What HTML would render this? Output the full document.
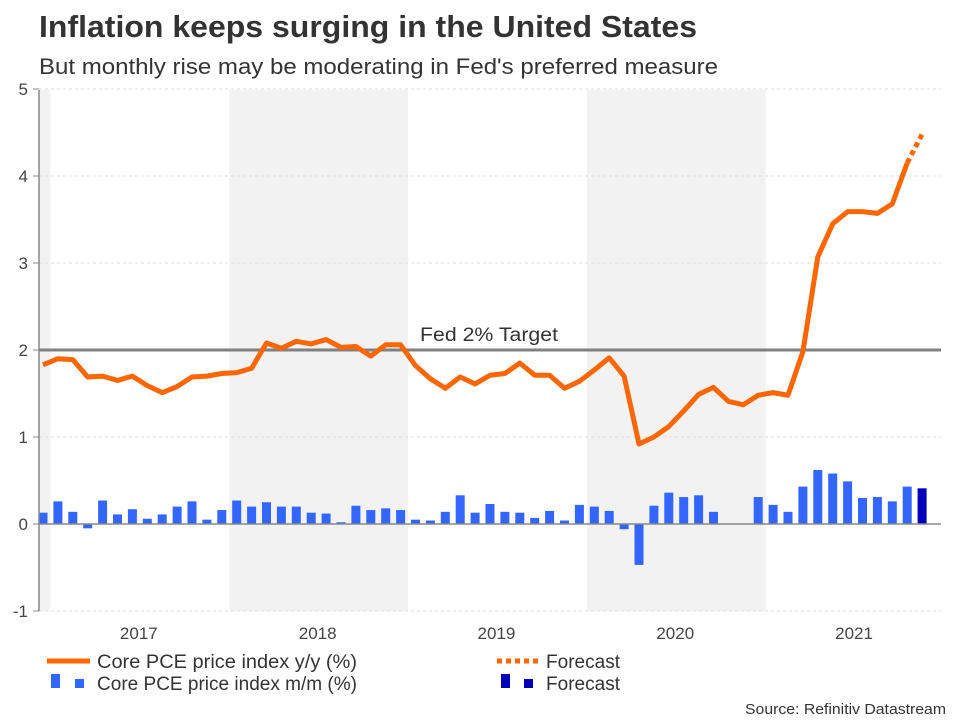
<!DOCTYPE html>
<html><head><meta charset="utf-8"><style>
body{margin:0;background:#fff;width:960px;height:720px;overflow:hidden;font-family:"Liberation Sans",Arial,sans-serif}
</style></head><body>
<svg width="960" height="720" xmlns="http://www.w3.org/2000/svg">
<text x="39" y="37" font-size="31" font-weight="bold" fill="#333" textLength="658" lengthAdjust="spacingAndGlyphs">Inflation keeps surging in the United States</text>
<text x="39" y="74" font-size="22" fill="#333" textLength="679" lengthAdjust="spacingAndGlyphs">But monthly rise may be moderating in Fed's preferred measure</text>
<g id="bands"></g>
<g id="grid"></g>
<g id="bars"></g>
<line x1="39" x2="941" y1="524" y2="524" stroke="#888" stroke-width="1.5"/>
<line x1="39" x2="941" y1="350" y2="350" stroke="#808080" stroke-width="3"/>
<text x="420" y="341" font-size="19" fill="#333" textLength="138" lengthAdjust="spacingAndGlyphs">Fed 2% Target</text>
<g id="line"></g>
<g id="axes"></g>
<g>
<line x1="47" x2="90" y1="661" y2="661" stroke="#ff6600" stroke-width="5"/>
<text x="97" y="668" font-size="19" fill="#333" textLength="260" lengthAdjust="spacingAndGlyphs">Core PCE price index y/y (%)</text>
<line x1="497" x2="540" y1="661" y2="661" stroke="#ff6600" stroke-width="5" stroke-dasharray="5,4"/>
<text x="546" y="668" font-size="19" fill="#333" textLength="74" lengthAdjust="spacingAndGlyphs">Forecast</text>
<rect x="51" y="674" width="9" height="14" fill="#3366ff"/>
<rect x="75" y="679" width="9" height="9" fill="#3366ff"/>
<text x="97" y="690" font-size="19" fill="#333" textLength="260" lengthAdjust="spacingAndGlyphs">Core PCE price index m/m (%)</text>
<rect x="501" y="674" width="9" height="14" fill="#0000bb"/>
<rect x="524" y="679" width="9" height="9" fill="#0000bb"/>
<text x="546" y="690" font-size="19" fill="#333" textLength="74" lengthAdjust="spacingAndGlyphs">Forecast</text>
</g>
<text x="745" y="714" font-size="15" fill="#333" textLength="201" lengthAdjust="spacingAndGlyphs">Source: Refinitiv Datastream</text>
</svg>
<script>
const yyValues=[1.83,1.90,1.89,1.69,1.70,1.65,1.70,1.59,1.51,1.58,1.69,1.70,1.73,1.74,1.79,2.08,2.02,2.10,2.07,2.12,2.03,2.04,1.93,2.06,2.06,1.82,1.67,1.56,1.69,1.61,1.71,1.73,1.85,1.71,1.71,1.56,1.64,1.77,1.91,1.70,0.92,1.00,1.12,1.30,1.49,1.57,1.41,1.37,1.48,1.51,1.48,1.98,3.07,3.45,3.59,3.59,3.57,3.68,4.15];
const yyForecast=[4.48];
const mmValues=[0.13,0.26,0.14,-0.05,0.27,0.11,0.17,0.06,0.11,0.20,0.26,0.05,0.16,0.27,0.20,0.25,0.20,0.20,0.13,0.12,0.02,0.21,0.16,0.18,0.16,0.05,0.04,0.14,0.33,0.13,0.23,0.14,0.13,0.07,0.15,0.04,0.22,0.20,0.15,-0.06,-0.47,0.21,0.36,0.31,0.33,0.14,0.005,0.005,0.31,0.22,0.14,0.43,0.62,0.58,0.49,0.30,0.31,0.26,0.43];
const mmForecast=[0.41];
const yTicks=[-1,0,1,2,3,4,5];
const yearLabels=["2017","2018","2019","2020","2021"];
const NS="http://www.w3.org/2000/svg";
const X=i=>43+14.9*i;
const Y=v=>524-87*v;
function mk(tag,attrs,parent){const e=document.createElementNS(NS,tag);for(const k in attrs)e.setAttribute(k,attrs[k]);document.getElementById(parent).appendChild(e);return e;}
for(let k=0;k<3;k++){const x0=k==0?39:X(0.5+12*(2*k-1));const x1=X(0.5+24*k);
const r=mk('rect',{x:x0,y:90,width:x1-x0,height:521,fill:'#f2f2f2'},'bands');

}
yTicks.forEach(t=>{
if(t!==0&&t!==2){const g=mk('line',{x1:39,x2:941,y1:Y(t),y2:Y(t),stroke:'#ddd','stroke-dasharray':'3,3'},'grid');

}
const tk=mk('line',{x1:33,x2:39,y1:Y(t),y2:Y(t),stroke:'#888'},'axes');


const l=mk('text',{x:28,y:Y(t)+6,'font-size':17,fill:'#444','text-anchor':'end'},'axes');l.textContent=t;

});
const ax=mk('line',{x1:39,x2:39,y1:90,y2:611,stroke:'#888','stroke-width':1.5},'axes');


yearLabels.forEach((y,k)=>{const t=mk('text',{x:X(6.5+12*k)-1,y:639,'font-size':17,fill:'#444','text-anchor':'middle'},'axes');t.textContent=y;

});
function bar(v,i,c){const y0=Y(0),y1=Y(v);const r=mk('rect',{x:X(i)-4.5,y:Math.min(y0,y1),width:9,height:Math.abs(y1-y0),fill:c},'bars');return r;}
mmValues.forEach((v,i)=>{const r=bar(v,i,'#3366ff');

});
mmForecast.forEach((v,j)=>{const r=bar(v,mmValues.length+j,'#0000bb');

});
const pts=yyValues.map((v,i)=>X(i)+','+Y(v)).join(' ');
const pl=mk('polyline',{points:pts,fill:'none',stroke:'#ff6600','stroke-width':5,'stroke-linejoin':'round'},'line');


const n=yyValues.length-1;
const fp=[X(n)+','+Y(yyValues[n])].concat(yyForecast.map((v,j)=>X(n+1+j)+','+Y(v))).join(' ');
const fl=mk('polyline',{points:fp,fill:'none',stroke:'#ff6600','stroke-width':5,'stroke-dasharray':'5,4'},'line');


</script>
</body></html>
